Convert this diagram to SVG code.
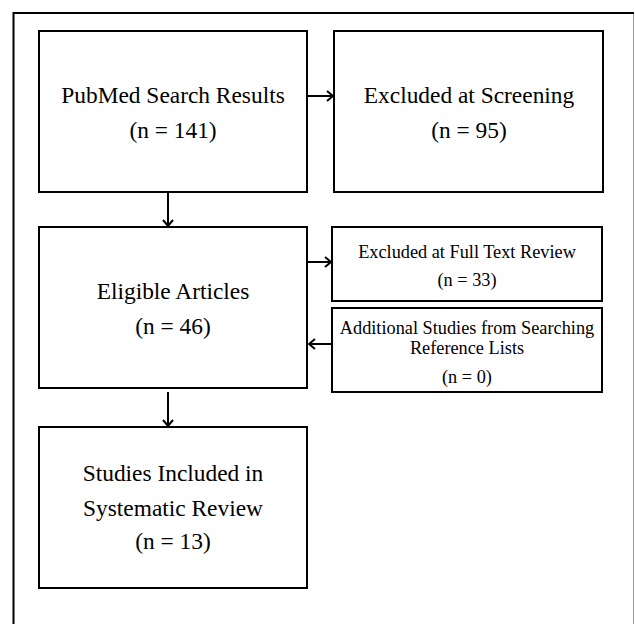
<svg xmlns="http://www.w3.org/2000/svg" width="635" height="624" viewBox="0 0 635 624">
<style>
.box{fill:#fff;stroke:#000;stroke-width:2}
.t{font-family:"Liberation Serif","Times New Roman",serif;font-size:23.4px;fill:#000;text-anchor:middle}
.s{font-family:"Liberation Serif","Times New Roman",serif;font-size:18.3px;fill:#000;text-anchor:middle}
.c{fill:none;stroke:#000;stroke-width:2}
.h{fill:none;stroke:#000;stroke-width:2;stroke-linejoin:miter}
</style>
<rect width="635" height="624" fill="#fff"/>
<g id="frame">
<path d="M13.5,624 V13 H634" fill="none" stroke="#000" stroke-width="2"/>
<line x1="633.5" y1="14" x2="633.5" y2="624" stroke="#999" stroke-width="1"/>
</g>
<g id="connectors">
<path class="c" d="M308,96 H332"/>
<path class="h" d="M327,91 L333,96 L327,101"/>
<path class="c" d="M168,193 V225"/>
<path class="h" d="M163,220 L168,226 L173,220"/>
<path class="c" d="M308,262 H330"/>
<path class="h" d="M325,257 L331,262 L325,267"/>
<path class="c" d="M331,344 H310"/>
<path class="h" d="M315,339 L309,344 L315,349"/>
<path class="c" d="M168,392 V425"/>
<path class="h" d="M163,420 L168,426 L173,420"/>
</g>
<g id="pubmed">
<rect class="box" x="39" y="31" width="268" height="161"/>
<text class="t" x="173" y="103">PubMed Search Results</text>
<text class="t" x="173" y="138">(n = 141)</text>
</g>
<g id="excluded-screening">
<rect class="box" x="334" y="31" width="269" height="161"/>
<text class="t" x="469" y="103">Excluded at Screening</text>
<text class="t" x="469" y="138">(n = 95)</text>
</g>
<g id="eligible">
<rect class="box" x="39" y="227" width="268" height="161"/>
<text class="t" x="173" y="299">Eligible Articles</text>
<text class="t" x="173" y="334">(n = 46)</text>
</g>
<g id="excluded-fulltext">
<rect class="box" x="332" y="227" width="270" height="74"/>
<text class="s" x="467" y="258">Excluded at Full Text Review</text>
<text class="s" x="467" y="286">(n = 33)</text>
</g>
<g id="additional">
<rect class="box" x="332" y="308" width="270" height="84"/>
<text class="s" x="467" y="334">Additional Studies from Searching</text>
<text class="s" x="467" y="354">Reference Lists</text>
<text class="s" x="467" y="383">(n = 0)</text>
</g>
<g id="included">
<rect class="box" x="39" y="427" width="268" height="161"/>
<text class="t" x="173" y="481">Studies Included in</text>
<text class="t" x="173" y="516">Systematic Review</text>
<text class="t" x="173" y="549">(n = 13)</text>
</g>
</svg>
